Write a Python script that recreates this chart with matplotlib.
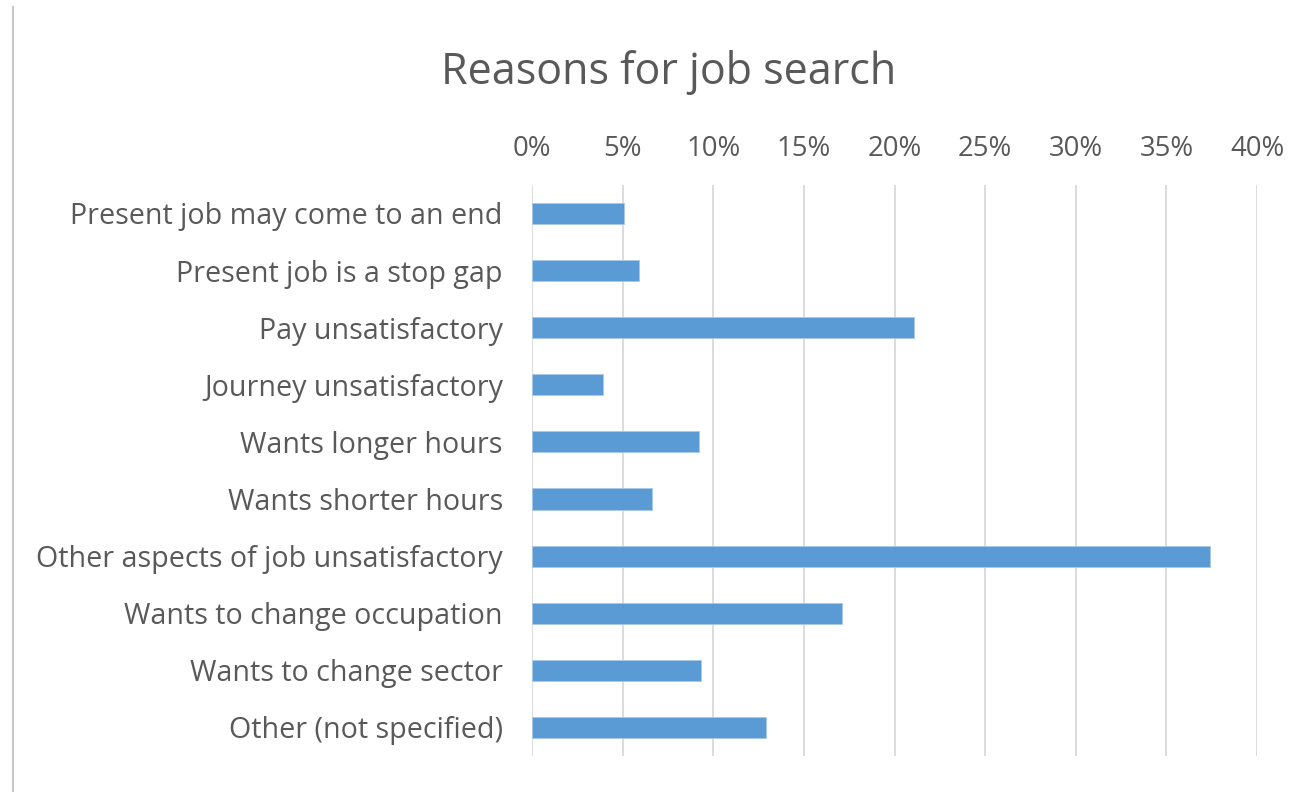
import matplotlib
matplotlib.use("Agg")
import matplotlib.pyplot as plt
from matplotlib.lines import Line2D

categories = [
    "Present job may come to an end",
    "Present job is a stop gap",
    "Pay unsatisfactory",
    "Journey unsatisfactory",
    "Wants longer hours",
    "Wants shorter hours",
    "Other aspects of job unsatisfactory",
    "Wants to change occupation",
    "Wants to change sector",
    "Other (not specified)",
]
values = [5.1, 5.9, 21.1, 3.9, 9.2, 6.6, 37.4, 17.1, 9.3, 12.9]
xticks = [0, 5, 10, 15, 20, 25, 30, 35, 40]
xtick_labels = [f"{t}%" for t in xticks]

plt.rcParams['font.family'] = ['Open Sans', 'DejaVu Sans']
text_color = "#595959"

fig = plt.figure(figsize=(13.04, 7.92), dpi=100)
ax = fig.add_axes([0.408, 0.0455, 0.556, 0.721])

ypos = list(range(len(categories)))
ax.barh(ypos, values, height=0.37, color="#5B9BD5", edgecolor="#A9C9EA", linewidth=0.6, zorder=3)
ax.set_ylim(len(categories) - 0.5, -0.5)
ax.set_xlim(0, 40)
ax.set_xticks(xticks)
ax.set_xticklabels(xtick_labels)
ax.xaxis.tick_top()
ax.set_yticks(ypos)
ax.set_yticklabels(categories)
ax.tick_params(axis='x', length=0, pad=15.5, labelsize=19.8, colors=text_color)
ax.tick_params(axis='y', length=0, pad=21, labelsize=20.6, colors=text_color)
ax.grid(axis='x', color="#D9D9D9", linewidth=1.3, zorder=0)
for s in ax.spines.values():
    s.set_visible(False)

fig.text(0.513, 0.908, "Reasons for job search", ha="center", va="center",
         fontsize=31, color=text_color)

fig.add_artist(Line2D([0.0096, 0.0096], [0.0, 0.991], transform=fig.transFigure,
                      color="#C8C8C8", linewidth=1.5))

fig.savefig("out.png", dpi=100)
